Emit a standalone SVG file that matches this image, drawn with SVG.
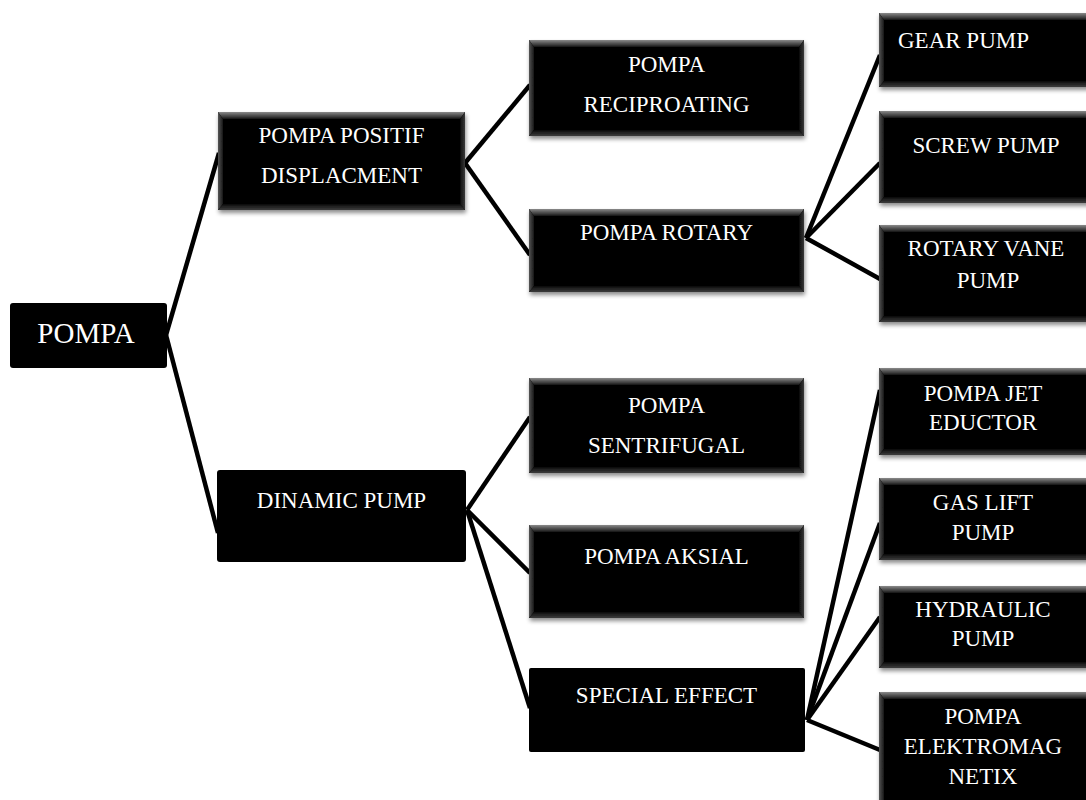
<svg xmlns="http://www.w3.org/2000/svg" width="1086" height="800" viewBox="0 0 1086 800">
<defs>
<linearGradient id="gTop" x1="0" y1="0" x2="0" y2="1"><stop offset="0" stop-color="#8a8a8a"/><stop offset="1" stop-color="#161616"/></linearGradient>
<linearGradient id="gLeft" x1="0" y1="0" x2="1" y2="0"><stop offset="0" stop-color="#555"/><stop offset="1" stop-color="#161616"/></linearGradient>
<linearGradient id="gRight" x1="0" y1="0" x2="1" y2="0"><stop offset="0" stop-color="#0c0c0c"/><stop offset="1" stop-color="#3a3a3a"/></linearGradient>
<linearGradient id="gBot" x1="0" y1="0" x2="0" y2="1"><stop offset="0" stop-color="#0c0c0c"/><stop offset="1" stop-color="#3c3c3c"/></linearGradient>
<filter id="sh" x="-10%" y="-10%" width="120%" height="130%"><feDropShadow dx="1" dy="3" stdDeviation="2.2" flood-color="#000" flood-opacity="0.45"/></filter>
</defs>
<style>
.c{stroke:#000;stroke-width:4.5;fill:none}
.b{fill:#000}
.t{fill:url(#gTop)}
.l{fill:url(#gLeft)}
.r{fill:url(#gRight)}
.bt{fill:url(#gBot)}
text{font-family:"Liberation Serif","Times New Roman",serif;font-size:23px;fill:#fff;text-anchor:middle}
.big{font-size:29px}
</style>
<rect width="1086" height="800" fill="#fff"/>
<g id="connectors">
<line class="c" x1="166" y1="335" x2="219" y2="153"/>
<line class="c" x1="166" y1="335" x2="218" y2="533"/>
<line class="c" x1="465" y1="163" x2="530" y2="85"/>
<line class="c" x1="465" y1="163" x2="530" y2="255"/>
<line class="c" x1="806" y1="238" x2="880" y2="55"/>
<line class="c" x1="806" y1="238" x2="880" y2="163"/>
<line class="c" x1="806" y1="238" x2="880" y2="279"/>
<line class="c" x1="467" y1="510" x2="530" y2="417"/>
<line class="c" x1="467" y1="510" x2="530" y2="573"/>
<line class="c" x1="467" y1="510" x2="530" y2="708"/>
<line class="c" x1="807" y1="720" x2="880" y2="390"/>
<line class="c" x1="807" y1="720" x2="880" y2="523"/>
<line class="c" x1="807" y1="720" x2="880" y2="617"/>
<line class="c" x1="807" y1="720" x2="880" y2="750"/>
</g>
<g id="n-pompa">
<rect x="10" y="303" width="157" height="65" rx="3" class="b"/>
<text x="86" y="343" class="big">POMPA</text>
</g>
<g id="n-positif">
<g transform="translate(218,112)" filter="url(#sh)">
<rect width="247" height="98" class="b"/>
<polygon class="t" points="0,0 247,0 242,7 5,7"/>
<polygon class="l" points="0,0 5,7 5,92 0,98"/>
<polygon class="r" points="247,0 247,98 242,92 242,7"/>
<polygon class="bt" points="0,98 247,98 242,92 5,92"/>
</g>
<text x="341.5" y="143">POMPA POSITIF</text>
<text x="341.5" y="183">DISPLACMENT</text>
</g>
<g id="n-recip">
<g transform="translate(529,40)" filter="url(#sh)">
<rect width="275" height="96" class="b"/>
<polygon class="t" points="0,0 275,0 270,7 5,7"/>
<polygon class="l" points="0,0 5,7 5,90 0,96"/>
<polygon class="r" points="275,0 275,96 270,90 270,7"/>
<polygon class="bt" points="0,96 275,96 270,90 5,90"/>
</g>
<text x="666.5" y="72">POMPA</text>
<text x="666.5" y="112">RECIPROATING</text>
</g>
<g id="n-rotary">
<g transform="translate(529,209)" filter="url(#sh)">
<rect width="275" height="83" class="b"/>
<polygon class="t" points="0,0 275,0 270,7 5,7"/>
<polygon class="l" points="0,0 5,7 5,77 0,83"/>
<polygon class="r" points="275,0 275,83 270,77 270,7"/>
<polygon class="bt" points="0,83 275,83 270,77 5,77"/>
</g>
<text x="666.5" y="240">POMPA ROTARY</text>
</g>
<g id="n-gear">
<g transform="translate(879,13)" filter="url(#sh)">
<rect width="220" height="74" class="b"/>
<polygon class="t" points="0,0 220,0 215,7 5,7"/>
<polygon class="l" points="0,0 5,7 5,68 0,74"/>
<polygon class="bt" points="0,74 220,74 215,68 5,68"/>
</g>
<text x="898" y="48" style="text-anchor:start">GEAR PUMP</text>
</g>
<g id="n-screw">
<g transform="translate(879,111)" filter="url(#sh)">
<rect width="220" height="92" class="b"/>
<polygon class="t" points="0,0 220,0 215,7 5,7"/>
<polygon class="l" points="0,0 5,7 5,86 0,92"/>
<polygon class="bt" points="0,92 220,92 215,86 5,86"/>
</g>
<text x="986" y="153">SCREW PUMP</text>
</g>
<g id="n-vane">
<g transform="translate(879,225)" filter="url(#sh)">
<rect width="220" height="97" class="b"/>
<polygon class="t" points="0,0 220,0 215,7 5,7"/>
<polygon class="l" points="0,0 5,7 5,91 0,97"/>
<polygon class="bt" points="0,97 220,97 215,91 5,91"/>
</g>
<text x="986" y="256">ROTARY VANE</text>
<text x="988" y="288">PUMP</text>
</g>
<g id="n-dinamic">
<rect x="217" y="470" width="249" height="92" rx="3" class="b"/>
<text x="341.5" y="508">DINAMIC PUMP</text>
</g>
<g id="n-sentrifugal">
<g transform="translate(529,378)" filter="url(#sh)">
<rect width="275" height="95" class="b"/>
<polygon class="t" points="0,0 275,0 270,7 5,7"/>
<polygon class="l" points="0,0 5,7 5,89 0,95"/>
<polygon class="r" points="275,0 275,95 270,89 270,7"/>
<polygon class="bt" points="0,95 275,95 270,89 5,89"/>
</g>
<text x="666.5" y="413">POMPA</text>
<text x="666.5" y="453">SENTRIFUGAL</text>
</g>
<g id="n-aksial">
<g transform="translate(529,525)" filter="url(#sh)">
<rect width="275" height="93" class="b"/>
<polygon class="t" points="0,0 275,0 270,7 5,7"/>
<polygon class="l" points="0,0 5,7 5,87 0,93"/>
<polygon class="r" points="275,0 275,93 270,87 270,7"/>
<polygon class="bt" points="0,93 275,93 270,87 5,87"/>
</g>
<text x="666.5" y="564">POMPA AKSIAL</text>
</g>
<g id="n-special">
<rect x="529" y="668" width="276" height="84" rx="2" class="b"/>
<text x="666.5" y="703">SPECIAL EFFECT</text>
</g>
<g id="n-jet">
<g transform="translate(879,368)" filter="url(#sh)">
<rect width="220" height="87" class="b"/>
<polygon class="t" points="0,0 220,0 215,7 5,7"/>
<polygon class="l" points="0,0 5,7 5,81 0,87"/>
<polygon class="bt" points="0,87 220,87 215,81 5,81"/>
</g>
<text x="983" y="401">POMPA JET</text>
<text x="983" y="430">EDUCTOR</text>
</g>
<g id="n-gaslift">
<g transform="translate(879,478)" filter="url(#sh)">
<rect width="220" height="82" class="b"/>
<polygon class="t" points="0,0 220,0 215,7 5,7"/>
<polygon class="l" points="0,0 5,7 5,76 0,82"/>
<polygon class="bt" points="0,82 220,82 215,76 5,76"/>
</g>
<text x="983" y="510">GAS LIFT</text>
<text x="983" y="540">PUMP</text>
</g>
<g id="n-hydraulic">
<g transform="translate(879,586)" filter="url(#sh)">
<rect width="220" height="82" class="b"/>
<polygon class="t" points="0,0 220,0 215,7 5,7"/>
<polygon class="l" points="0,0 5,7 5,76 0,82"/>
<polygon class="bt" points="0,82 220,82 215,76 5,76"/>
</g>
<text x="983" y="617">HYDRAULIC</text>
<text x="983" y="646">PUMP</text>
</g>
<g id="n-elektro">
<g transform="translate(879,692)" filter="url(#sh)">
<rect width="220" height="120" class="b"/>
<polygon class="t" points="0,0 220,0 215,7 5,7"/>
<polygon class="l" points="0,0 5,7 5,114 0,120"/>
</g>
<text x="983" y="724">POMPA</text>
<text x="983" y="754">ELEKTROMAG</text>
<text x="983" y="784">NETIX</text>
</g>
</svg>
